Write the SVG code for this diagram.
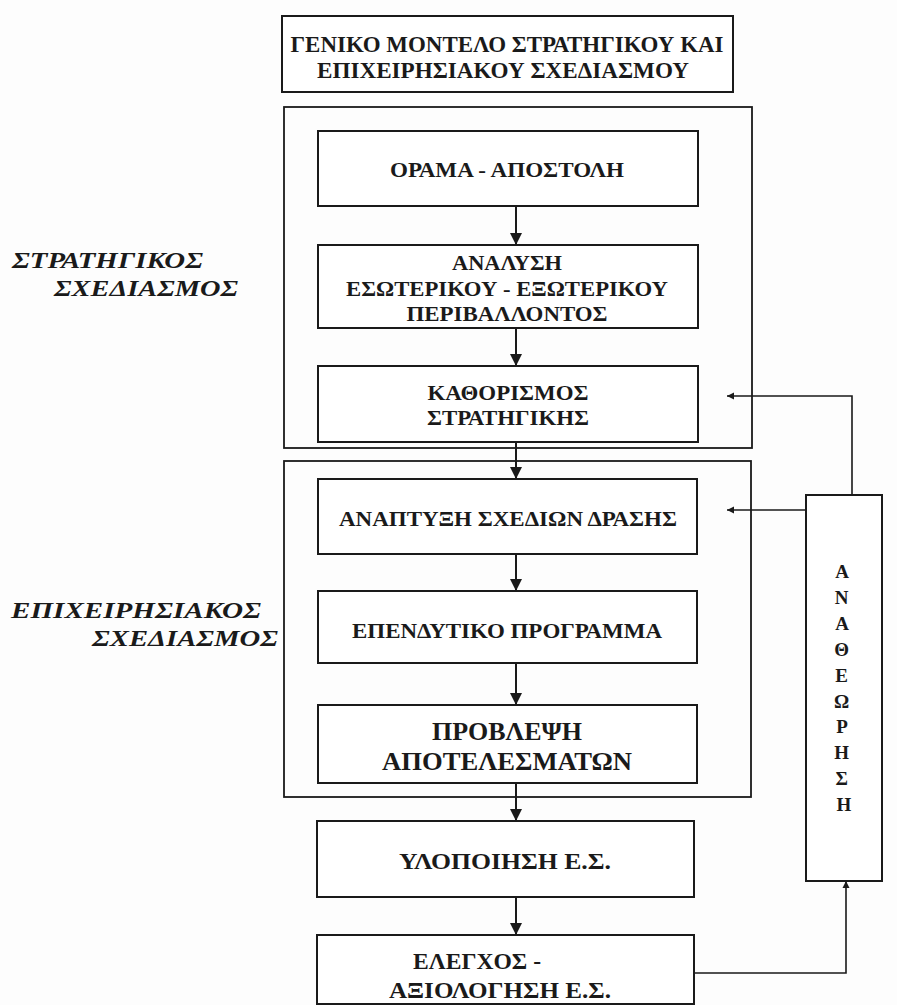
<svg xmlns="http://www.w3.org/2000/svg" width="897" height="1005" viewBox="0 0 897 1005">
<style>
.bx{fill:#fff;stroke:#1a1a1a;stroke-width:2}
.grp{fill:none;stroke:#1a1a1a;stroke-width:1.8}
.t{font-family:"Liberation Serif","DejaVu Serif",serif;font-weight:bold;fill:#1a1a1a;text-anchor:middle}
.lab{font-family:"Liberation Serif","DejaVu Serif",serif;font-weight:bold;font-style:italic;fill:#1a1a1a}
.c{fill:none;stroke:#1a1a1a;stroke-width:2}
.f{fill:none;stroke:#1a1a1a;stroke-width:1.6}
</style>
<defs>
<marker id="ah" markerUnits="userSpaceOnUse" markerWidth="12" markerHeight="14" refX="12" refY="7" orient="auto">
<path d="M0,1 L12,7 L0,13 z" fill="#1a1a1a"/>
</marker>
<marker id="sh" markerUnits="userSpaceOnUse" markerWidth="8" markerHeight="8" refX="7" refY="4" orient="auto">
<path d="M0,0.5 L7,4 L0,7.5 z" fill="#1a1a1a"/>
</marker>
</defs>
<rect width="897" height="1005" fill="#fdfdfd"/>

<g id="title">
<rect class="bx" x="282" y="16" width="451" height="76"/>
<text class="t" x="507" y="52" font-size="23" textLength="433" lengthAdjust="spacingAndGlyphs">ΓΕΝΙΚΟ ΜΟΝΤΕΛΟ ΣΤΡΑΤΗΓΙΚΟΥ ΚΑΙ</text>
<text class="t" x="503" y="78" font-size="23" textLength="372" lengthAdjust="spacingAndGlyphs">ΕΠΙΧΕΙΡΗΣΙΑΚΟΥ ΣΧΕΔΙΑΣΜΟΥ</text>
</g>

<g id="strategic-group">
<rect class="grp" x="284" y="107" width="468" height="341"/>
</g>
<g id="operational-group">
<rect class="grp" x="284" y="461" width="467" height="336"/>
</g>

<g id="label-strategic">
<text class="lab" x="12" y="268" font-size="24" textLength="191" lengthAdjust="spacingAndGlyphs">ΣΤΡΑΤΗΓΙΚΟΣ</text>
<text class="lab" x="54" y="296" font-size="24" textLength="184" lengthAdjust="spacingAndGlyphs">ΣΧΕΔΙΑΣΜΟΣ</text>
</g>
<g id="label-operational">
<text class="lab" x="11" y="618" font-size="24" textLength="250" lengthAdjust="spacingAndGlyphs">ΕΠΙΧΕΙΡΗΣΙΑΚΟΣ</text>
<text class="lab" x="92" y="646" font-size="24" textLength="186" lengthAdjust="spacingAndGlyphs">ΣΧΕΔΙΑΣΜΟΣ</text>
</g>

<g id="connectors">
<line class="c" x1="516" y1="206" x2="516" y2="245" marker-end="url(#ah)"/>
<line class="c" x1="516" y1="328" x2="516" y2="366" marker-end="url(#ah)"/>
<line class="c" x1="516" y1="442" x2="516" y2="479" marker-end="url(#ah)"/>
<line class="c" x1="516" y1="554" x2="516" y2="591" marker-end="url(#ah)"/>
<line class="c" x1="516" y1="663" x2="516" y2="705" marker-end="url(#ah)"/>
<line class="c" x1="516" y1="783" x2="516" y2="821" marker-end="url(#ah)"/>
<line class="c" x1="516" y1="897" x2="516" y2="935" marker-end="url(#ah)"/>
<polyline class="f" points="695,973 846,973 846,881" marker-end="url(#sh)"/>
<polyline class="f" points="852,495 852,396 727,396" marker-end="url(#sh)"/>
<line class="f" x1="806" y1="510" x2="727" y2="510" marker-end="url(#sh)"/>
</g>

<g id="orama">
<rect class="bx" x="318" y="131" width="380" height="75"/>
<text class="t" x="507" y="177" font-size="21" textLength="234" lengthAdjust="spacingAndGlyphs">ΟΡΑΜΑ - ΑΠΟΣΤΟΛΗ</text>
</g>
<g id="analysi">
<rect class="bx" x="318" y="245" width="380" height="83"/>
<text class="t" x="507" y="270" font-size="21" textLength="110" lengthAdjust="spacingAndGlyphs">ΑΝΑΛΥΣΗ</text>
<text class="t" x="507" y="296" font-size="21" textLength="322" lengthAdjust="spacingAndGlyphs">ΕΣΩΤΕΡΙΚΟΥ - ΕΞΩΤΕΡΙΚΟΥ</text>
<text class="t" x="507" y="321" font-size="21" textLength="201" lengthAdjust="spacingAndGlyphs">ΠΕΡΙΒΑΛΛΟΝΤΟΣ</text>
</g>
<g id="kathorismos">
<rect class="bx" x="318" y="366" width="380" height="76"/>
<text class="t" x="508" y="400" font-size="22" textLength="161" lengthAdjust="spacingAndGlyphs">ΚΑΘΟΡΙΣΜΟΣ</text>
<text class="t" x="508" y="425" font-size="22" textLength="162" lengthAdjust="spacingAndGlyphs">ΣΤΡΑΤΗΓΙΚΗΣ</text>
</g>
<g id="anaptyxi">
<rect class="bx" x="318" y="479" width="379" height="75"/>
<text class="t" x="508" y="526" font-size="21" textLength="338" lengthAdjust="spacingAndGlyphs">ΑΝΑΠΤΥΞΗ ΣΧΕΔΙΩΝ ΔΡΑΣΗΣ</text>
</g>
<g id="ependytiko">
<rect class="bx" x="318" y="591" width="379" height="72"/>
<text class="t" x="507" y="638" font-size="21" textLength="310" lengthAdjust="spacingAndGlyphs">ΕΠΕΝΔΥΤΙΚΟ ΠΡΟΓΡΑΜΜΑ</text>
</g>
<g id="provlepsi">
<rect class="bx" x="318" y="705" width="379" height="78"/>
<text class="t" x="507" y="740" font-size="25" textLength="150" lengthAdjust="spacingAndGlyphs">ΠΡΟΒΛΕΨΗ</text>
<text class="t" x="507" y="770" font-size="25" textLength="250" lengthAdjust="spacingAndGlyphs">ΑΠΟΤΕΛΕΣΜΑΤΩΝ</text>
</g>
<g id="ylopoiisi">
<rect class="bx" x="317" y="821" width="377" height="76"/>
<text class="t" x="505" y="869" font-size="24" textLength="212" lengthAdjust="spacingAndGlyphs">ΥΛΟΠΟΙΗΣΗ Ε.Σ.</text>
</g>
<g id="elegxos">
<rect class="bx" x="317" y="935" width="377" height="69"/>
<text class="t" x="477" y="969" font-size="24" textLength="128" lengthAdjust="spacingAndGlyphs">ΕΛΕΓΧΟΣ -</text>
<text class="t" x="500" y="998" font-size="24" textLength="222" lengthAdjust="spacingAndGlyphs">ΑΞΙΟΛΟΓΗΣΗ Ε.Σ.</text>
</g>
<g id="anatheorisi">
<rect class="bx" x="806" y="495" width="76" height="386"/>
<text class="t" font-size="19">
<tspan x="844" y="578">Α</tspan>
<tspan x="844" y="604">Ν</tspan>
<tspan x="844" y="630">Α</tspan>
<tspan x="844" y="656">Θ</tspan>
<tspan x="844" y="682">Ε</tspan>
<tspan x="844" y="708">Ω</tspan>
<tspan x="844" y="733">Ρ</tspan>
<tspan x="844" y="759">Η</tspan>
<tspan x="844" y="785">Σ</tspan>
<tspan x="844" y="811">Η</tspan>
</text>
</g>
</svg>
